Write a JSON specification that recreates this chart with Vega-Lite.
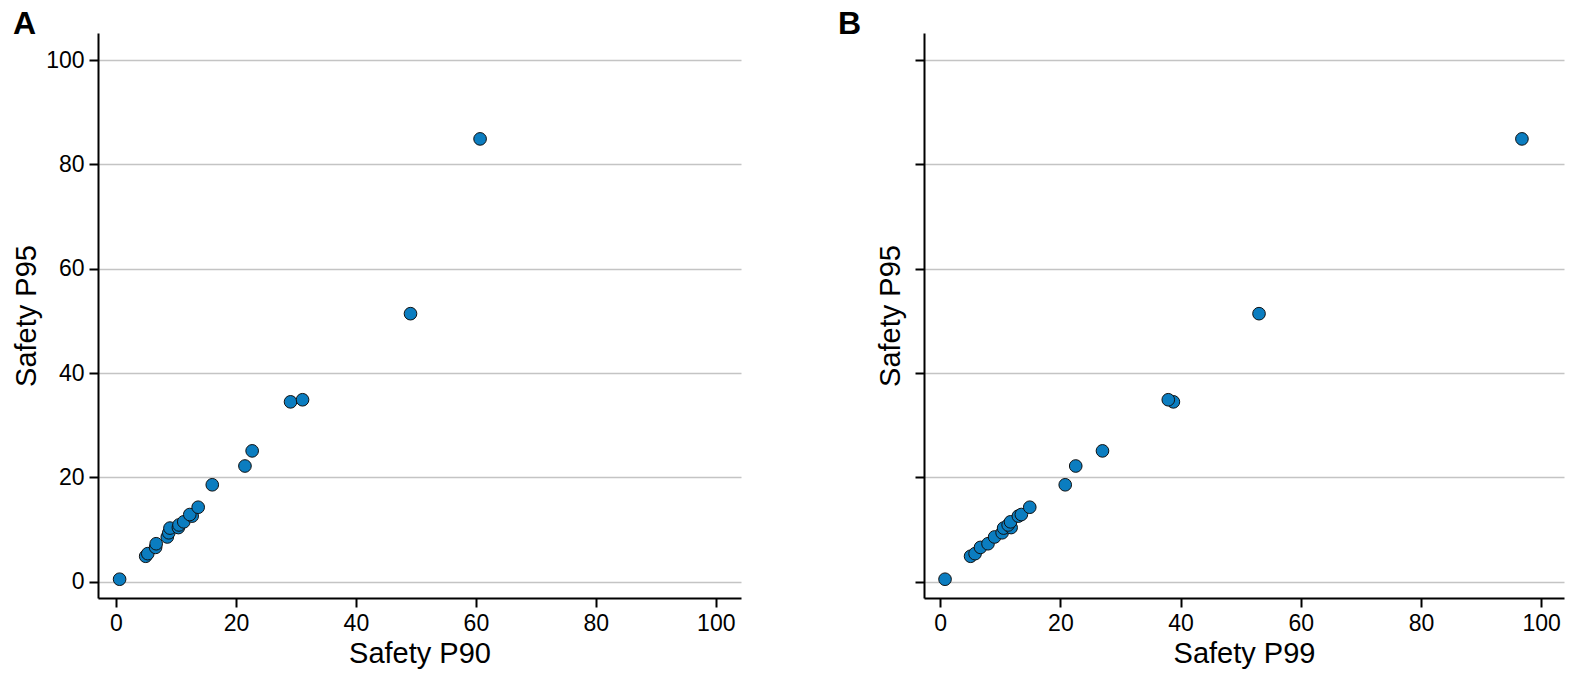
{
  "$schema": "https://vega.github.io/schema/vega-lite/v6.json",
  "background": "#ffffff",
  "padding": {"left": 12, "top": 8, "right": 5, "bottom": 5},
  "config": {
    "view": {"stroke": null},
    "font": "Liberation Sans",
    "axis": {
      "domainColor": "#000000",
      "domainWidth": 2,
      "tickColor": "#000000",
      "tickWidth": 2,
      "tickSize": 9,
      "labelFont": "Liberation Sans",
      "labelFontSize": 23,
      "labelColor": "#000000",
      "labelPadding": 5,
      "titleFont": "Liberation Sans",
      "titleFontSize": 29,
      "titleFontWeight": "normal",
      "titleColor": "#000000",
      "gridColor": "#c4c4c4",
      "gridWidth": 1.5
    },
    "title": {"font": "Liberation Sans", "fontSize": 32, "fontWeight": "bold", "color": "#000000", "anchor": "start", "frame": "group", "baseline": "alphabetic"}
  },
  "data": {
    "values": [
      {"p90": 0.6, "p95": 0.5, "p99": 0.8},
      {"p90": 4.95, "p95": 4.9, "p99": 5.05},
      {"p90": 5.3, "p95": 5.4, "p99": 5.8},
      {"p90": 6.6, "p95": 6.6, "p99": 6.7},
      {"p90": 6.7, "p95": 7.3, "p99": 7.95},
      {"p90": 8.55, "p95": 8.6, "p99": 9.05},
      {"p90": 8.8, "p95": 9.4, "p99": 10.3},
      {"p90": 9.0, "p95": 10.3, "p99": 10.55},
      {"p90": 10.4, "p95": 10.4, "p99": 11.8},
      {"p90": 10.5, "p95": 10.9, "p99": 11.3},
      {"p90": 11.3, "p95": 11.5, "p99": 11.7},
      {"p90": 12.7, "p95": 12.6, "p99": 13.0},
      {"p90": 12.3, "p95": 12.9, "p99": 13.5},
      {"p90": 13.7, "p95": 14.3, "p99": 14.9},
      {"p90": 16.05, "p95": 18.6, "p99": 20.8},
      {"p90": 21.5, "p95": 22.2, "p99": 22.55},
      {"p90": 22.7, "p95": 25.1, "p99": 27.0},
      {"p90": 29.1, "p95": 34.5, "p99": 38.8},
      {"p90": 31.1, "p95": 34.9, "p99": 37.95},
      {"p90": 49.1, "p95": 51.4, "p99": 53.05},
      {"p90": 60.7, "p95": 84.9, "p99": 96.8}
    ]
  },
  "spacing": 97,
  "hconcat": [
    {
      "title": {"text": "A", "dx": -85, "offset": -8},
      "width": 643,
      "height": 565,
      "mark": {"type": "point", "filled": true, "fill": "#0b7dc0", "stroke": "#111111", "strokeWidth": 1, "size": 160, "opacity": 1},
      "encoding": {
        "x": {"field": "p90", "type": "quantitative", "title": "Safety P90",
          "scale": {"domain": [-3, 104.2], "nice": false, "zero": false},
          "axis": {"values": [0, 20, 40, 60, 80, 100], "grid": false}},
        "y": {"field": "p95", "type": "quantitative", "title": "Safety P95",
          "scale": {"domain": [-3.1, 105.2], "nice": false, "zero": false},
          "axis": {"values": [0, 20, 40, 60, 80, 100], "grid": true}}
      }
    },
    {
      "title": {"text": "B", "dx": -86, "offset": -8},
      "width": 640,
      "height": 565,
      "mark": {"type": "point", "filled": true, "fill": "#0b7dc0", "stroke": "#111111", "strokeWidth": 1, "size": 160, "opacity": 1},
      "encoding": {
        "x": {"field": "p99", "type": "quantitative", "title": "Safety P99",
          "scale": {"domain": [-2.7, 103.8], "nice": false, "zero": false},
          "axis": {"values": [0, 20, 40, 60, 80, 100], "grid": false}},
        "y": {"field": "p95", "type": "quantitative", "title": "Safety P95",
          "scale": {"domain": [-3.1, 105.2], "nice": false, "zero": false},
          "axis": {"values": [0, 20, 40, 60, 80, 100], "grid": true, "labels": false, "titlePadding": 9}}
      }
    }
  ]
}
